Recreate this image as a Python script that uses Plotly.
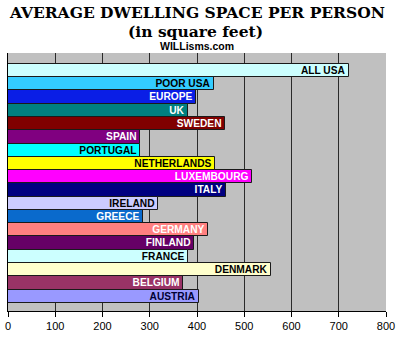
import plotly.graph_objects as go

countries = ["ALL USA", "POOR USA", "EUROPE", "UK", "SWEDEN", "SPAIN", "PORTUGAL",
             "NETHERLANDS", "LUXEMBOURG", "ITALY", "IRELAND", "GREECE", "GERMANY",
             "FINLAND", "FRANCE", "DENMARK", "BELGIUM", "AUSTRIA"]
space_sqft = [721, 435, 397, 380, 460, 280, 280, 439, 516, 462, 317, 286, 423,
              394, 380, 557, 371, 405]
bar_colors = ["#CCFFFF", "#33CCFF", "#0A1EE6", "#008080", "#800000", "#800080", "#00FFFF",
              "#FFFF00", "#FF00FF", "#000080", "#CCCCFF", "#0A6ACC", "#FF8080",
              "#660066", "#CCFFFF", "#FFFFCC", "#993366", "#9999FF"]
label_colors = ["#000000", "#000000", "#FFFFFF", "#FFFFFF", "#FFFFFF", "#FFFFFF", "#000000",
                "#000000", "#FFFFFF", "#FFFFFF", "#000000", "#FFFFFF", "#FFFFFF",
                "#FFFFFF", "#000000", "#000000", "#FFFFFF", "#000033"]
x_ticks = [0, 100, 200, 300, 400, 500, 600, 700, 800]

W, H = 400, 337
L, R, T, B = 5, 10, 53, 22
ph = H - T - B
pw = W - L - R

def py(p):
    return (H - B - p) / ph

def px(p):
    return (p - L) / pw

fig = go.Figure(go.Bar(
    x=space_sqft, y=countries, orientation="h",
    marker=dict(color=bar_colors, line=dict(color="#1a1a1a", width=1)),
    text=countries, textposition="inside", insidetextanchor="end",
    textangle=0, constraintext="none",
    textfont=dict(family="Liberation Sans, Arial",
                  size=10.2, color=label_colors, weight="bold"),
    hoverinfo="x+y",
))

fig.update_layout(
    width=W, height=H,
    margin=dict(l=L, r=R, t=T, b=B, pad=0),
    paper_bgcolor="white", plot_bgcolor="#C0C0C0",
    bargap=0, showlegend=False,
    xaxis=dict(range=[0, 800], tickvals=x_ticks, ticktext=[str(v) for v in x_ticks],
               showgrid=True, gridcolor="#2a2a2a", gridwidth=1.2, zeroline=False,
               showline=True, linecolor="#000000", linewidth=1,
               ticks="outside", ticklen=5, tickcolor="#000000",
               tickfont=dict(family="Liberation Sans, Arial", size=11, color="#000000")),
    yaxis=dict(categoryorder="array", categoryarray=countries,
               range=[17.5 + 0.62, -0.5 - 0.82], showticklabels=False,
               showgrid=False, zeroline=False, showline=True,
               linecolor="#000000", linewidth=1, ticks=""),
    annotations=[
        dict(text="<b>AVERAGE DWELLING SPACE PER PERSON</b>", xref="paper", yref="paper",
             x=px(198), y=py(11.5), xanchor="center", yanchor="middle", showarrow=False,
             font=dict(family="DejaVu Serif", size=15.5, color="#000000")),
        dict(text="<b>(in square feet)</b>", xref="paper", yref="paper",
             x=px(196), y=py(31), xanchor="center", yanchor="middle", showarrow=False,
             font=dict(family="DejaVu Serif", size=15.5, color="#000000")),
        dict(text="<b>WILLisms.com</b>", xref="paper", yref="paper",
             x=px(198), y=py(46), xanchor="center", yanchor="middle", showarrow=False,
             font=dict(family="Liberation Sans, Arial", size=10.5,
                       color="#000000")),
    ],
)

fig.write_html("out.html")
